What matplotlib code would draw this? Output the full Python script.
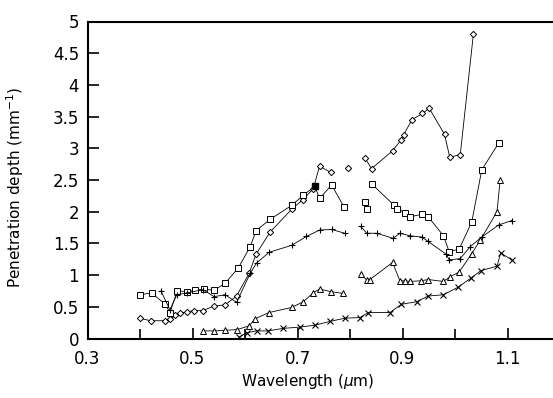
import numpy as np
import matplotlib
matplotlib.use('Agg')
import matplotlib.pyplot as plt
from matplotlib.ticker import FixedLocator, FixedFormatter

nan = np.nan

# diamond series
dia_x = [0.400, 0.420, 0.448, 0.458, 0.467, 0.476, 0.489, 0.502, 0.520, 0.540, 0.562, 0.584,
         0.608, 0.621, 0.648, 0.689, 0.710, 0.730, 0.742, 0.763, nan, 0.797, nan,
         0.829, 0.841, 0.881, 0.897, 0.902, 0.918, 0.938, 0.951, 0.980, 0.990, 1.010, 1.035]
dia_y = [0.32, 0.28, 0.28, 0.30, 0.37, 0.40, 0.42, 0.44, 0.44, 0.51, 0.53, 0.67,
         1.03, 1.33, 1.68, 2.04, 2.19, 2.36, 2.72, 2.62, nan, 2.69, nan,
         2.84, 2.68, 2.96, 3.13, 3.21, 3.45, 3.55, 3.63, 3.22, 2.86, 2.90, 4.80]

# square series
sq_x = [0.400, 0.422, 0.448, 0.457, 0.471, 0.489, 0.505, 0.521, 0.541, 0.562, 0.587, 0.610,
        0.621, 0.648, 0.689, 0.711, 0.733, 0.742, 0.765, 0.789, nan, 0.829, 0.833, nan,
        0.841, 0.883, 0.890, 0.905, 0.915, 0.937, 0.949, 0.978, 0.989, 1.008, 1.032, 1.051, 1.083]
sq_y = [0.69, 0.72, 0.54, 0.41, 0.75, 0.74, 0.76, 0.78, 0.76, 0.87, 1.11, 1.45,
        1.70, 1.88, 2.10, 2.26, 2.40, 2.21, 2.42, 2.07, nan, 2.16, 2.05, nan,
        2.44, 2.11, 2.05, 1.98, 1.92, 1.96, 1.92, 1.62, 1.37, 1.41, 1.84, 2.66, 3.08]
sq_filled = [16]

# plus series
pl_x = [0.440, 0.457, 0.470, 0.490, 0.520, 0.541, 0.562, 0.584, 0.610, 0.622, 0.646, 0.689,
        0.717, 0.742, 0.765, 0.790, nan, 0.820, 0.832, 0.851, 0.882, 0.895, 0.914, 0.937,
        0.949, 0.983, 0.989, 1.010, 1.029, 1.051, 1.083, 1.108]
pl_y = [0.75, 0.45, 0.69, 0.72, 0.77, 0.66, 0.69, 0.57, 1.03, 1.19, 1.36, 1.47,
        1.61, 1.71, 1.72, 1.66, nan, 1.77, 1.66, 1.66, 1.58, 1.66, 1.62, 1.60,
        1.53, 1.33, 1.24, 1.26, 1.45, 1.60, 1.79, 1.86]

# triangle series
tri_x = [0.520, 0.541, 0.562, 0.585, 0.608, 0.619, 0.646, 0.689, 0.711, 0.730, 0.742, 0.763,
         0.787, nan, 0.820, 0.832, 0.838, 0.881, 0.895, 0.905, 0.914, 0.935, 0.949, 0.978,
         0.990, 1.008, 1.032, 1.048, 1.080, 1.086]
tri_y = [0.12, 0.12, 0.13, 0.14, 0.20, 0.31, 0.41, 0.49, 0.58, 0.72, 0.78, 0.74,
         0.71, nan, 1.02, 0.92, 0.93, 1.20, 0.91, 0.91, 0.90, 0.91, 0.93, 0.90,
         0.97, 1.05, 1.34, 1.55, 2.00, 2.50]

# cross series
cr_x = [0.589, 0.603, 0.622, 0.644, 0.673, 0.705, 0.733, 0.762, 0.790, 0.819, 0.835, 0.876,
        0.898, 0.927, 0.949, 0.978, 1.006, 1.030, 1.049, 1.080, 1.087, 1.108]
cr_y = [0.02, 0.09, 0.12, 0.12, 0.16, 0.18, 0.21, 0.27, 0.32, 0.33, 0.41, 0.41,
        0.54, 0.58, 0.67, 0.69, 0.81, 0.95, 1.07, 1.14, 1.35, 1.24]

x_major = [0.3, 0.5, 0.7, 0.9, 1.1]
x_labels = ['0.3', '0.5', '0.7', '0.9', '1.1']
x_minor = [0.4, 0.6, 0.8, 1.0, 1.2]
y_ticks = [0, 0.5, 1, 1.5, 2, 2.5, 3, 3.5, 4, 4.5, 5]
y_labels = ['0', '0.5', '1', '1.5', '2', '2.5', '3', '3.5', '4', '4.5', '5']

fig = plt.figure(figsize=(5.53, 3.98), dpi=100)
ax = fig.add_axes([87.5 / 553, 59.5 / 398, 472.5 / 553, 317 / 398])

lw = 0.6
ax.plot(dia_x, dia_y, color='black', lw=lw, marker='D', ms=3.2, mfc='white', mew=0.7)
ax.plot(sq_x, sq_y, color='black', lw=lw, marker='s', ms=5, mfc='white', mew=0.7)
ax.plot(sq_x, sq_y, ls='none', marker='s', ms=5, mfc='black', mec='black',
        markevery=sq_filled)
ax.plot(pl_x, pl_y, color='black', lw=lw, marker='+', ms=5, mew=0.8)
ax.plot(tri_x, tri_y, color='black', lw=lw, marker='^', ms=4.5, mfc='white', mew=0.7)
ax.plot(cr_x, cr_y, color='black', lw=lw, marker='x', ms=4, mew=0.8)

ax.set_xlim(0.3, 1.2)
ax.set_ylim(0, 5)
ax.xaxis.set_major_locator(FixedLocator(x_major))
ax.xaxis.set_major_formatter(FixedFormatter(x_labels))
ax.xaxis.set_minor_locator(FixedLocator(x_minor))
ax.yaxis.set_major_locator(FixedLocator(y_ticks))
ax.yaxis.set_major_formatter(FixedFormatter(y_labels))
ax.tick_params(axis='both', which='major', direction='in', length=8, width=1.2,
               labelsize=12)
ax.tick_params(axis='y', pad=6)
ax.tick_params(axis='x', pad=8)
ax.tick_params(axis='x', which='minor', direction='in', length=7, width=1.2)
ax.tick_params(top=False, right=False)

for side in ['left', 'bottom', 'top']:
    ax.spines[side].set_linewidth(1.5)
ax.spines['right'].set_visible(False)

ax.set_xlabel(r'Wavelength ($\mu$m)', fontsize=11)
ax.xaxis.set_label_coords(0.467, -0.105)
ax.set_ylabel(r'Penetration depth (mm$^{-1}$)', fontsize=11)
ax.yaxis.set_label_coords(-0.13, 0.475)

fig.savefig('out.png', dpi=100)
